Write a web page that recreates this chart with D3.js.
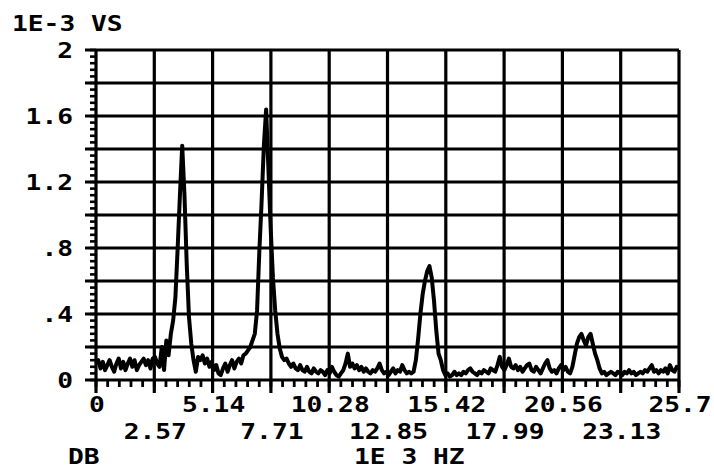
<!DOCTYPE html>
<html>
<head>
<meta charset="utf-8">
<script src="https://cdn.jsdelivr.net/npm/d3@7"></script>
<style>
  html, body { margin: 0; padding: 0; background: #fff; }
  svg { display: block; }
  text { font-family: "DejaVu Sans Mono", monospace; font-weight: bold; font-size: 21px; fill: #000; }
</style>
</head>
<body>
<svg id="chart" width="714" height="470"></svg>
<script>
// ---- data ----
const freqStep = 0.1;            // kHz between samples (1E 3 HZ units)
const freqMax = 25.7;
// spectrum magnitude, 1E-3 VS, one value per 0.1 kHz from 0 to 25.7
const vsValues = [
  0.10, 0.12, 0.07, 0.11, 0.06, 0.09, 0.12, 0.08, 0.05, 0.10,
  0.13, 0.07, 0.11, 0.06, 0.10, 0.13, 0.08, 0.12, 0.06, 0.09,
  0.11, 0.13, 0.09, 0.12, 0.07, 0.13, 0.14, 0.10, 0.08, 0.20,
  0.06, 0.24, 0.15, 0.28, 0.36, 0.50, 0.80, 1.12, 1.42, 1.12,
  0.70, 0.38, 0.22, 0.12, 0.05, 0.14, 0.12, 0.15, 0.10, 0.13,
  0.08, 0.11, 0.06, 0.09, 0.04, 0.03, 0.07, 0.10, 0.05, 0.09,
  0.12, 0.07, 0.11, 0.13, 0.10, 0.15, 0.16, 0.18, 0.20, 0.24,
  0.28, 0.42, 0.78, 1.08, 1.42, 1.64, 1.28, 0.92, 0.62, 0.42,
  0.28, 0.19, 0.14, 0.12, 0.13, 0.10, 0.08, 0.10, 0.07, 0.06,
  0.09, 0.06, 0.05, 0.08, 0.05, 0.04, 0.07, 0.05, 0.04, 0.06,
  0.05, 0.03, 0.06, 0.04, 0.08, 0.05, 0.03, 0.02, 0.04, 0.06,
  0.10, 0.16, 0.08, 0.10, 0.07, 0.09, 0.06, 0.08, 0.05, 0.07,
  0.05, 0.04, 0.06, 0.05, 0.07, 0.10, 0.06, 0.04, 0.05, 0.03,
  0.05, 0.07, 0.04, 0.06, 0.05, 0.09, 0.06, 0.04, 0.05, 0.04,
  0.05, 0.12, 0.25, 0.40, 0.52, 0.60, 0.66, 0.69, 0.62, 0.48,
  0.30, 0.16, 0.12, 0.06, 0.03, 0.04, 0.02, 0.03, 0.05, 0.03,
  0.04, 0.03, 0.05, 0.04, 0.06, 0.07, 0.05, 0.04, 0.03, 0.05,
  0.04, 0.06, 0.05, 0.04, 0.07, 0.06, 0.05, 0.09, 0.14, 0.08,
  0.06, 0.09, 0.13, 0.08, 0.07, 0.09, 0.06, 0.08, 0.05, 0.07,
  0.09, 0.10, 0.06, 0.05, 0.08, 0.06, 0.04, 0.07, 0.10, 0.12,
  0.07, 0.05, 0.06, 0.04, 0.07, 0.09, 0.06, 0.08, 0.05, 0.04,
  0.08, 0.15, 0.22, 0.26, 0.28, 0.24, 0.21, 0.26, 0.28, 0.22,
  0.16, 0.12, 0.07, 0.04, 0.05, 0.03, 0.04, 0.05, 0.04, 0.03,
  0.05, 0.04, 0.03, 0.05, 0.04, 0.06, 0.04, 0.05, 0.03, 0.04,
  0.05, 0.04, 0.06, 0.05, 0.07, 0.09, 0.05, 0.06, 0.04, 0.06,
  0.05, 0.07, 0.04, 0.09, 0.06, 0.05, 0.08, 0.07
];
const xTickLabels = ["0", "2.57", "5.14", "7.71", "10.28", "12.85", "15.42", "17.99", "20.56", "23.13", "25.7"];
const yTickLabels = ["0", ".4", ".8", "1.2", "1.6", "2"];
const yUnitLabel = "1E-3 VS";
const xUnitLabel = "1E 3 HZ";
const cornerLabel = "DB";

// ---- layout ----
const svg = d3.select("#chart");
const x = d3.scaleLinear().domain([0, freqMax]).range([96, 679]);
const y = d3.scaleLinear().domain([0, 2]).range([380, 50]);

const xMajor = xTickLabels.map(Number);
const xMinor = d3.range(0, 51).map(i => i * freqMax / 50);
const yMajor = d3.range(0, 11).map(i => i * 0.2);
const yMinor = d3.range(0, 51).map(i => i * 0.04);

const ink = "#000";
const g = svg.append("g");

// minor ticks
g.selectAll("line.xminor").data(xMinor).join("line")
  .attr("x1", d => x(d)).attr("x2", d => x(d))
  .attr("y1", y(0)).attr("y2", y(0) + 7)
  .attr("stroke", ink).attr("stroke-width", 2.8);
g.selectAll("line.yminor").data(yMinor).join("line")
  .attr("x1", x(0) - 6).attr("x2", x(0))
  .attr("y1", d => y(d)).attr("y2", d => y(d))
  .attr("stroke", ink).attr("stroke-width", 2.6);

// grid (vertical lines extend below as major ticks)
g.selectAll("line.vgrid").data(xMajor).join("line")
  .attr("x1", d => x(d)).attr("x2", d => x(d))
  .attr("y1", y(2)).attr("y2", y(0) + 13)
  .attr("stroke", ink).attr("stroke-width", 3.2);
// horizontal lines extend left as major ticks
g.selectAll("line.hgrid").data(yMajor).join("line")
  .attr("x1", x(0) - 11).attr("x2", x(freqMax))
  .attr("y1", d => y(d)).attr("y2", d => y(d))
  .attr("stroke", ink).attr("stroke-width", 3.2);

// spectrum
const pts = vsValues.map((v, i) => [i * freqStep, v]);
const line = d3.line().x(d => x(d[0])).y(d => y(d[1]));
g.append("path").datum(pts)
  .attr("d", line)
  .attr("fill", "none")
  .attr("stroke", ink)
  .attr("stroke-width", 4)
  .attr("stroke-linejoin", "round");

// text helper (wide plotter-style lettering)
function label(txt, px, py, anchor) {
  svg.append("g")
    .attr("transform", `translate(${px},${py}) scale(1.25,1)`)
    .append("text")
    .attr("text-anchor", anchor)
    .text(txt);
}

// y tick labels
yTickLabels.forEach(t => label(t, 73, y(Number(t)) + 8, "end"));
// x tick labels, alternating rows
xTickLabels.forEach((t, i) => label(t, x(Number(t)) + 1, i % 2 === 0 ? 412 : 439, "middle"));

label(yUnitLabel, 12, 31, "start");
label(cornerLabel, 68, 464, "start");
label(xUnitLabel, 354, 464, "start");
</script>
</body>
</html>
